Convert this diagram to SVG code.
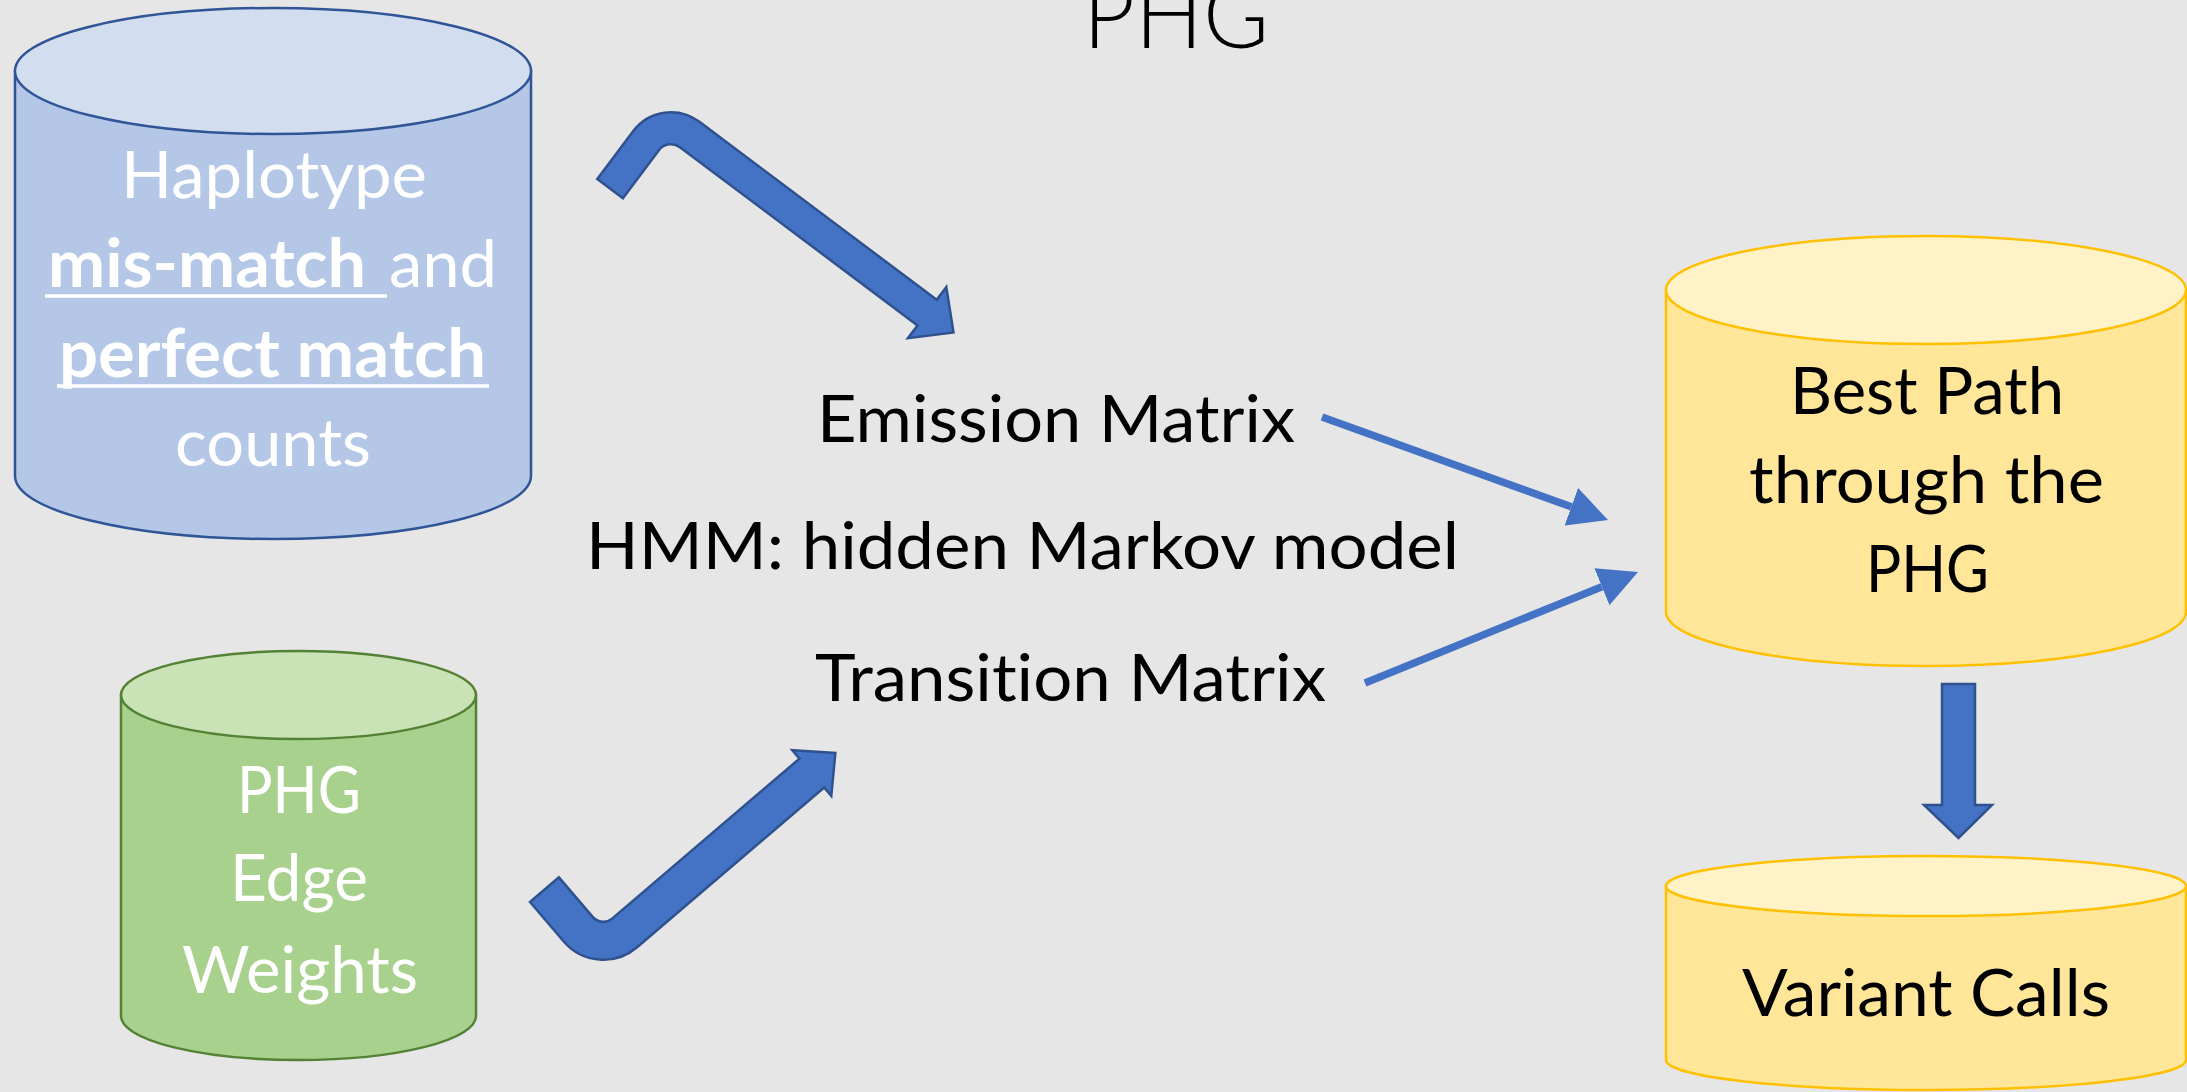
<svg xmlns="http://www.w3.org/2000/svg" width="2187" height="1092" viewBox="0 0 2187 1092">
<style>
text{font-variant-ligatures:none;font-feature-settings:"liga" 0,"dlig" 0}
.t{font-family:Lato,"Liberation Sans",sans-serif;font-size:66px}
.w{fill:#FFFFFF}
.k{fill:#000000}
.b{font-weight:700}
.cb{stroke:#2F5597;stroke-width:2.5}
.cg{stroke:#548235;stroke-width:2.5}
.cy{stroke:#FFC000;stroke-width:2.5}
.bent{fill:#4472C4;stroke:#2F528F;stroke-width:2.5;stroke-linejoin:miter}
.ln{stroke:#4472C4;stroke-width:7.5;fill:none}
.ul{stroke:#FFFFFF;stroke-width:3.5}
</style>
<defs>
<marker id="ah" markerUnits="userSpaceOnUse" markerWidth="40" markerHeight="40" viewBox="0 0 40 40" refX="0" refY="20" orient="auto">
<path d="M0,0 L39,20 L0,40 Z" fill="#4472C4"/>
</marker>
</defs>
<rect width="2187" height="1092" fill="#E7E6E6"/>

<g id="title">
<text class="k" x="1083" y="48" style="font-family:Lato,'Liberation Sans',sans-serif;font-size:95px;font-weight:300" textLength="186" lengthAdjust="spacingAndGlyphs">PHG</text>
</g>

<g id="node-haplotype">
<path class="cb" fill="#B4C7E7" d="M15,71 L15,476 A258,63 0 0 0 531,476 L531,71 Z"/>
<ellipse class="cb" fill="#D2DEEF" cx="273" cy="71" rx="258" ry="63"/>
<text class="t w" x="121" y="198" textLength="306" lengthAdjust="spacingAndGlyphs">Haplotype</text>
<text class="t w b" x="48" y="287" textLength="318" lengthAdjust="spacingAndGlyphs">mis-match</text>
<text class="t w" x="389" y="287" textLength="108" lengthAdjust="spacingAndGlyphs">and</text>
<line class="ul" x1="45" y1="296" x2="387" y2="296"/>
<text class="t w b" x="59" y="377" textLength="427" lengthAdjust="spacingAndGlyphs">perfect match</text>
<line class="ul" x1="57" y1="386" x2="489" y2="386"/>
<text class="t w" x="175" y="466" textLength="196" lengthAdjust="spacingAndGlyphs">counts</text>
</g>

<g id="node-edge-weights">
<path class="cg" fill="#A9D18E" d="M121,695 L121,1016 A177.5,44 0 0 0 476,1016 L476,695 Z"/>
<ellipse class="cg" fill="#C9E3B7" cx="298.5" cy="695" rx="177.5" ry="44"/>
<text class="t w" x="237" y="813" textLength="124" lengthAdjust="spacingAndGlyphs">PHG</text>
<text class="t w" x="230" y="901" textLength="138" lengthAdjust="spacingAndGlyphs">Edge</text>
<text class="t w" x="182" y="993" textLength="236" lengthAdjust="spacingAndGlyphs">Weights</text>
</g>

<g id="node-emission">
<text class="t k" x="817" y="442" textLength="478" lengthAdjust="spacingAndGlyphs">Emission Matrix</text>
</g>
<g id="node-hmm">
<text class="t k" x="586" y="569" textLength="873" lengthAdjust="spacingAndGlyphs">HMM: hidden Markov model</text>
</g>
<g id="node-transition">
<text class="t k" x="815" y="701" textLength="511" lengthAdjust="spacingAndGlyphs">Transition Matrix</text>
</g>

<g id="node-best-path">
<path class="cy" fill="#FFE699" d="M1666,290 L1666,612 A260,54 0 0 0 2186,612 L2186,290 Z"/>
<ellipse class="cy" fill="#FFF2C6" cx="1926" cy="290" rx="260" ry="54"/>
<text class="t k" x="1790" y="414" textLength="274" lengthAdjust="spacingAndGlyphs">Best Path</text>
<text class="t k" x="1749" y="503" textLength="355" lengthAdjust="spacingAndGlyphs">through the</text>
<text class="t k" x="1866" y="592" textLength="123" lengthAdjust="spacingAndGlyphs">PHG</text>
</g>

<g id="node-variant-calls">
<path class="cy" fill="#FFE699" d="M1666,886 L1666,1060 A260,30 0 0 0 2186,1060 L2186,886 Z"/>
<ellipse class="cy" fill="#FFF2C6" cx="1926" cy="886" rx="260" ry="30"/>
<text class="t k" x="1742" y="1016" textLength="368" lengthAdjust="spacingAndGlyphs">Variant Calls</text>
</g>

<g id="connectors">
<path class="bent" transform="translate(597.3,179) rotate(36.87)" d="M0,0 L0,-60 A47,47 0 0 1 47,-107 L344,-107 L344,-123 L377,-91 L344,-59 L344,-75 L47,-75 A15,15 0 0 0 32,-60 L32,0 Z"/>
<path class="bent" transform="translate(530,902) rotate(-40.5)" d="M0,0 L38,0 L38,52 A14,14 0 0 0 52,66 L298,66 L298,55 L329,85 L298,115 L298,104 L52,104 A52,52 0 0 1 0,52 Z"/>
<line class="ln" x1="1322" y1="417" x2="1571.3" y2="506.8" marker-end="url(#ah)"/>
<line class="ln" x1="1365" y1="683" x2="1601.9" y2="586.7" marker-end="url(#ah)"/>
<path class="bent" d="M1942,684 L1975,684 L1975,805 L1992,805 L1958.5,838 L1924,805 L1942,805 Z"/>
</g>
</svg>
